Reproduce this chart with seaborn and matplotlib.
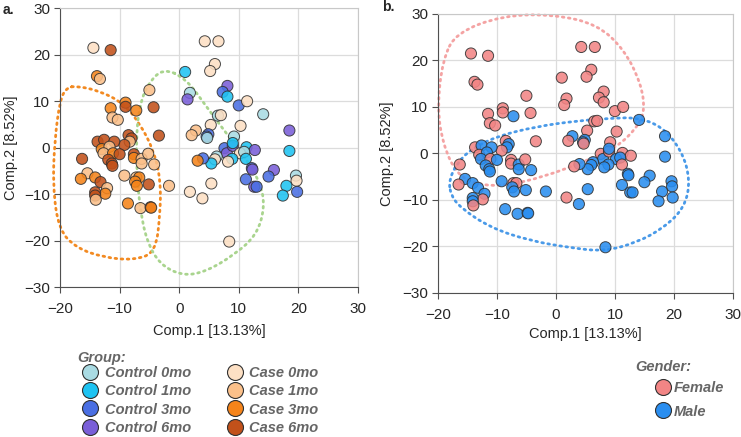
import numpy as np
import pandas as pd
import matplotlib
matplotlib.use("Agg")
import matplotlib.pyplot as plt
from matplotlib.path import Path
from matplotlib.patches import PathPatch
from matplotlib.lines import Line2D
import seaborn as sns

# --- datos (PCA) ---
comp1 = [-14.4, -11.5, -13.8, -13.3, -5.0, -9.0, -9.0, -11.5, -7.2, -4.3,
         -11.2, -10.3, -3.4, -8.5, -8.0, -8.3, -9.2, -13.7, -12.6, -10.9,
         -13.0, -11.7, -12.7, -11.1, -10.0, -11.9, -11.3, -11.2, -7.6, -7.6,
         -6.3, -6.3, -5.2, -4.2, -16.3, -15.4, -16.5, -14.1, -13.2, -12.1,
         -12.4, -14.1, -14.1, -14.0, -9.2, -7.2, -6.7, -7.4, -7.1, -5.1,
         -1.7, -8.6, -6.5, -4.8, -4.7,
         4.3, 6.6, 6.0, 5.2, 1.0, 8.1, 7.3, 8.1, 1.8, 1.4,
         10.0, 11.4, 14.1, 6.5, 7.0, 5.3, 10.3, 18.5, 2.8, 2.1,
         4.9, 4.6, 4.7, 9.2, 7.6, 8.0, 9.0, 11.3, 12.7, 18.5,
         10.2, 10.9, 8.9, 11.2, 6.3, 6.0, 5.4, 8.2, 4.0, 3.1,
         12.2, 12.3, 15.9, 15.0, 19.6, 19.7, 11.2, 18.0, 12.6, 13.0,
         17.4, 19.8, 5.4, 1.8, 3.9, 8.4, 9.0]
comp2 = [21.5, 21.0, 15.4, 14.8, 12.4, 9.7, 8.8, 8.5, 8.0, 8.7,
         6.5, 6.0, 2.6, 2.7, 2.0, 1.3, 0.6, 1.3, 1.7, 1.3,
         -0.3, 0.2, -1.2, -1.2, -1.4, -2.6, -3.4, -3.9, -1.4, -2.2,
         -2.4, -3.4, -1.3, -3.6, -2.4, -5.5, -6.7, -6.4, -7.4, -8.7,
         -9.9, -9.6, -10.3, -11.2, -6.0, -6.4, -6.4, -7.3, -8.2, -7.9,
         -8.2, -12.0, -13.0, -12.8, -12.9,
         22.9, 22.9, 18.0, 16.5, 16.3, 13.3, 12.0, 11.0, 11.8, 10.4,
         9.1, 10.0, 7.2, 6.9, 7.0, 4.9, 4.7, 3.7, 3.7, 2.7,
         2.9, 2.4, 2.1, 2.4, -0.1, -1.2, 0.4, 0.1, -0.5, -0.7,
         -1.2, -0.9, -2.4, -2.4, -1.9, -2.5, -3.4, -3.0, -2.3, -2.8,
         -4.4, -4.7, -4.8, -6.2, -6.0, -7.1, -6.8, -8.2, -8.4, -8.4,
         -10.3, -9.5, -7.7, -9.5, -10.9, -20.2, 1.0]
grupo = (["Case 0mo", "Case 6mo", "Case 3mo", "Case 1mo", "Case 1mo", "Case 3mo", "Case 6mo", "Case 3mo", "Case 3mo", "Case 6mo",
          "Case 1mo", "Case 1mo", "Case 6mo", "Case 6mo", "Case 6mo", "Case 1mo", "Case 6mo", "Case 6mo", "Case 6mo", "Case 6mo",
          "Case 3mo", "Case 1mo", "Case 1mo", "Case 3mo", "Case 6mo", "Case 6mo", "Case 6mo", "Case 6mo", "Case 6mo", "Case 3mo",
          "Case 1mo", "Case 1mo", "Case 1mo", "Case 1mo", "Case 6mo", "Case 1mo", "Case 3mo", "Case 3mo", "Case 6mo", "Case 1mo",
          "Case 3mo", "Case 6mo", "Case 6mo", "Case 1mo", "Case 1mo", "Case 1mo", "Case 3mo", "Case 3mo", "Case 3mo", "Case 6mo",
          "Case 1mo", "Case 3mo", "Case 1mo", "Case 6mo", "Case 3mo"] +
         ["Case 0mo", "Case 0mo", "Case 0mo", "Case 0mo", "Control 1mo", "Control 6mo", "Control 3mo", "Control 1mo", "Control 0mo", "Control 6mo",
          "Control 3mo", "Case 0mo", "Control 0mo", "Control 0mo", "Case 0mo", "Case 0mo", "Case 0mo", "Control 6mo", "Case 1mo", "Case 1mo",
          "Control 3mo", "Control 3mo", "Control 0mo", "Control 0mo", "Control 3mo", "Control 6mo", "Control 6mo", "Control 1mo", "Control 6mo", "Control 1mo",
          "Case 0mo", "Control 0mo", "Control 1mo", "Control 1mo", "Control 0mo", "Case 0mo", "Control 1mo", "Case 0mo", "Control 3mo", "Case 3mo",
          "Control 3mo", "Control 6mo", "Control 6mo", "Control 3mo", "Control 0mo", "Case 0mo", "Control 3mo", "Control 1mo", "Control 6mo", "Control 3mo",
          "Control 1mo", "Control 3mo", "Case 0mo", "Case 0mo", "Case 0mo", "Case 0mo", "Control 1mo"])
genero = (["Female", "Female", "Female", "Female", "Female", "Female", "Female", "Female", "Male", "Female",
           "Female", "Female", "Female", "Female", "Male", "Male", "Female", "Female", "Male", "Male",
           "Female", "Male", "Male", "Female", "Male", "Male", "Male", "Male", "Female", "Female",
           "Male", "Male", "Female", "Male", "Female", "Male", "Female", "Male", "Male", "Male",
           "Female", "Male", "Male", "Female", "Male", "Female", "Female", "Male", "Male", "Male",
           "Male", "Male", "Male", "Male", "Male"] +
          ["Female", "Female", "Female", "Female", "Female", "Female", "Female", "Female", "Female", "Female",
           "Female", "Female", "Male", "Female", "Female", "Female", "Female", "Male", "Male", "Female",
           "Male", "Male", "Female", "Female", "Female", "Male", "Female", "Female", "Female", "Male",
           "Male", "Male", "Male", "Female", "Male", "Male", "Male", "Male", "Male", "Female",
           "Male", "Male", "Male", "Male", "Male", "Male", "Male", "Male", "Male", "Male",
           "Male", "Male", "Male", "Female", "Male", "Male", "Male"])

orden_grupos = ["Control 0mo", "Control 1mo", "Control 3mo", "Control 6mo",
                "Case 0mo", "Case 1mo", "Case 3mo", "Case 6mo"]
colores_grupos = ["#a9dbe3", "#1ec3f2", "#4a6fe3", "#7a5fd8",
                  "#fde0c4", "#fbc08a", "#f5841a", "#c2511a"]
orden_genero = ["Female", "Male"]
colores_genero = ["#f28585", "#2a8ef0"]

# contornos punteados (vertices de control)
casos_x = [-17.2, -13.3, -9.4, -6.6, -4.3, -3.1, -3.2, -4.0, -7.7, -12.7, -17.2, -20.2, -21.2, -20.9, -20.0, -18.9]
casos_y = [13.3, 12.2, 9.6, 5.2, -0.5, -7.0, -14.5, -22.6, -24.2, -23.6, -21.6, -17.7, -8.4, 1.6, 10.3, 12.9]
control_x = [-2.7, -5.5, -6.8, -7.2, -7.1, -6.6, -5.5, -3.2, 0.7, 4.6, 9.3, 13.0, 14.4, 13.6, 11.0, 7.9, 4.6, 1.2]
control_y = [17.2, 13.3, 8.1, 1.6, -5.5, -12.7, -20.0, -25.2, -27.6, -26.6, -23.0, -18.8, -12.7, -7.5, -1.9, 3.1, 8.8, 14.8]
male_x = [-18.1, -16.8, -14.5, -10.0, -3.2, 3.6, 9.8, 13.7, 17.9, 21.3, 22.8, 21.8, 18.3, 13.7, 8.1, 2.4, -4.4, -11.1, -16.3, -17.9]
male_y = [-5.7, -2.2, 0.8, 3.7, 5.8, 7.0, 7.6, 7.7, 5.9, 0.7, -5.7, -11.7, -16.0, -19.2, -21.1, -20.3, -18.8, -16.0, -11.6, -8.7]
female_x = [-16.9, -8.9, -0.4, 7.0, 11.6, 14.4, 15.1, 13.8, 10.3, 5.3, -2.1, -8.9, -13.4, -16.9, -19.2, -20.1, -19.2]
female_y = [26.0, 29.7, 29.9, 27.8, 22.3, 15.1, 9.3, 5.6, 1.3, -1.5, -5.1, -7.0, -6.7, -4.4, 2.2, 10.0, 20.1]

df = pd.DataFrame({"comp1": comp1, "comp2": comp2, "group": grupo, "gender": genero})

sns.set_style("white")
plt.rcParams["font.family"] = ["Liberation Sans", "DejaVu Sans"]

fig = plt.figure(figsize=(7.41, 4.37), dpi=100)
ax_a = fig.add_axes([0.081, 0.343, 0.402, 0.638])
ax_b = fig.add_axes([0.591, 0.330, 0.398, 0.638])


def contorno(ax, xs, ys, color):
    pts = np.column_stack([xs, ys])
    mids = (pts + np.roll(pts, -1, axis=0)) / 2
    verts = [mids[-1]]
    codes = [Path.MOVETO]
    for i in range(len(pts)):
        verts += [pts[i], mids[i]]
        codes += [Path.CURVE3, Path.CURVE3]
    patch = PathPatch(Path(verts, codes), fill=False, edgecolor=color,
                      linewidth=2.0, linestyle=(0, (0.6, 1.6)), clip_on=False, zorder=2)
    patch.set_capstyle("round")
    ax.add_patch(patch)


def estilo(ax):
    ax.set_xlim(-20, 30)
    ax.set_ylim(-30, 30)
    ax.set_xticks(range(-20, 31, 10))
    ax.set_yticks(range(-30, 31, 10))
    ax.grid(True, color="#dcdcdc", linewidth=0.9, zorder=0)
    ax.set_axisbelow(True)
    for lado in ["top", "right"]:
        ax.spines[lado].set_color("#c8c8c8")
    for lado in ["left", "bottom"]:
        ax.spines[lado].set_color("#505050")
    ax.tick_params(axis="both", direction="out", length=4, width=0.8,
                   color="#505050", labelsize=11, left=True, bottom=True)
    ax.tick_params(axis="x", pad=7)
    ax.tick_params(axis="y", pad=3)
    ax.set_xlabel("Comp.1 [13.13%]", fontsize=10.5)
    ax.set_ylabel("Comp.2 [8.52%]", fontsize=10.5)


# --- panel a: grupos ---
sns.scatterplot(data=df, x="comp1", y="comp2", hue="group", hue_order=orden_grupos,
                palette=dict(zip(orden_grupos, colores_grupos)), s=64, alpha=0.88,
                edgecolor="#303030", linewidth=0.7, legend=False, ax=ax_a, zorder=3)
contorno(ax_a, casos_x, casos_y, "#f28a22")
contorno(ax_a, control_x, control_y, "#a9d48e")
estilo(ax_a)
ax_a.xaxis.set_label_coords(0.5, -0.132)
ax_a.yaxis.set_label_coords(-0.141, 0.5)

# --- panel b: genero ---
sns.scatterplot(data=df, x="comp1", y="comp2", hue="gender", hue_order=orden_genero,
                palette=dict(zip(orden_genero, colores_genero)), s=64, alpha=0.88,
                edgecolor="#303030", linewidth=0.7, legend=False, ax=ax_b, zorder=3)
contorno(ax_b, female_x, female_y, "#f4a3a3")
contorno(ax_b, male_x, male_y, "#4a9ae8")
estilo(ax_b)
ax_b.xaxis.set_label_coords(0.5, -0.122)
ax_b.yaxis.set_label_coords(-0.148, 0.5)

fig.text(0.003, 0.977, "a.", fontsize=10, fontweight="bold", va="center")
fig.text(0.516, 0.984, "b.", fontsize=10, fontweight="bold", va="center")

# --- leyendas ---
gris = "#666666"
fuente = dict(weight="bold", style="italic", size=10.5)


def manijas(colores):
    return [Line2D([], [], marker="o", linestyle="", markersize=11.5,
                   markerfacecolor=c, markeredgecolor="#303030", markeredgewidth=0.8)
            for c in colores]


fig.text(0.104, 0.181, "Group:", color=gris, va="center", **fuente)
fig.legend(manijas(colores_grupos), orden_grupos, loc="upper left",
           bbox_to_anchor=(0.112, 0.163), ncol=2, frameon=False, prop=fuente,
           labelcolor=gris, handlelength=1.0, handletextpad=0.5, labelspacing=0.3,
           columnspacing=2.5, borderpad=0, borderaxespad=0)

fig.text(0.858, 0.160, "Gender:", color=gris, va="center", **fuente)
fig.legend(manijas(colores_genero), orden_genero, loc="upper left",
           bbox_to_anchor=(0.885, 0.128), ncol=1, frameon=False, prop=fuente,
           labelcolor=gris, handlelength=1.0, handletextpad=0.2, labelspacing=0.65,
           borderpad=0, borderaxespad=0)

fig.savefig("out.png", dpi=100)
